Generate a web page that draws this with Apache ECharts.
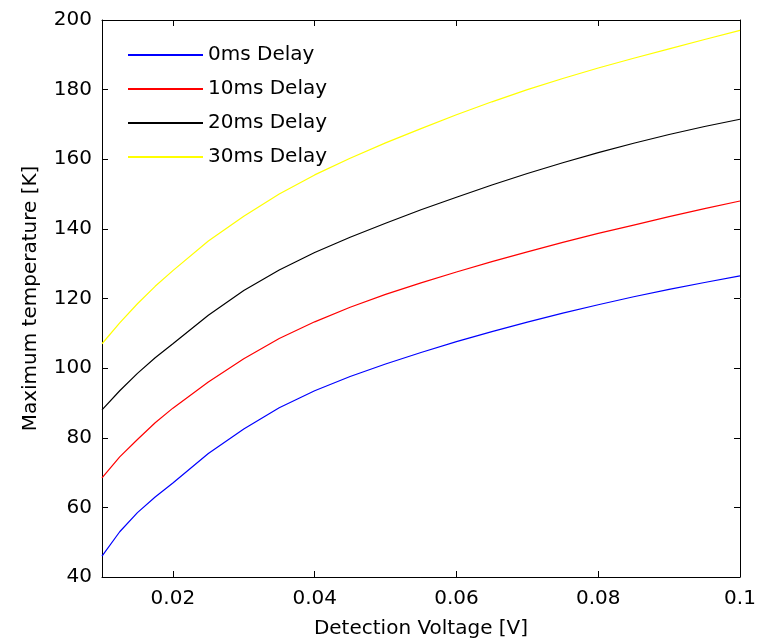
<!DOCTYPE html>
<html><head><meta charset="utf-8">
<script src="https://cdn.jsdelivr.net/npm/echarts@6/dist/echarts.min.js"></script>
<style>html,body{margin:0;padding:0;background:#fff}#c{width:763px;height:640px}</style>
</head><body><div id="c"></div>
<script>
const xVals = [0.01,0.0125,0.015,0.0175,0.02,0.025,0.03,0.035,0.04,0.045,0.05,0.055,0.06,0.065,0.07,0.075,0.08,0.085,0.09,0.095,0.1];
const seriesNames = ['0ms Delay','10ms Delay','20ms Delay','30ms Delay'];
const delay0 = [46,53,58.5,63,67,75.5,82.5,88.6,93.5,97.6,101.2,104.5,107.6,110.5,113.2,115.8,118.2,120.5,122.6,124.6,126.5];
const delay10 = [68.5,74.5,79.5,84.3,88.5,96,102.7,108.5,113.3,117.5,121.2,124.5,127.6,130.6,133.4,136.1,138.7,141.1,143.5,145.8,148];
const delay20 = [88,93.5,98.5,103,107,115.2,122.3,128.2,133.2,137.6,141.6,145.5,149.1,152.6,155.9,159,161.9,164.6,167.1,169.4,171.5];
const delay30 = [107,113,118.5,123.5,128,136.5,143.6,150,155.5,160.3,164.7,168.8,172.8,176.5,180,183.2,186.2,189,191.7,194.4,197];
const xTicks = [0.02,0.04,0.06,0.08,0.1];
const colors = ['#0000ff','#ff0000','#000000','#ffff00'];
const allData = [delay0,delay10,delay20,delay30];

const font = 'DejaVu Sans, sans-serif';
const chart = echarts.init(document.getElementById('c'));
const axisLine = {show:true,lineStyle:{color:'#000',width:1}};
chart.setOption({
  animation:false,
  grid:{left:102,right:23,top:20,bottom:63,outerBoundsMode:'none',containLabel:false},
  legend:{
    orient:'vertical',left:128,top:45,padding:0,itemWidth:75,itemHeight:2,itemGap:14,
    icon:'rect',textStyle:{fontFamily:font,fontSize:20,color:'#000'},
    data:seriesNames
  },
  xAxis:[{
    type:'value',min:0.01,max:0.1,position:'bottom',
    name:'Detection Voltage [V]',nameLocation:'middle',nameGap:42,
    nameTextStyle:{fontFamily:font,fontSize:20,color:'#000'},
    axisLine:axisLine,splitLine:{show:false},
    axisTick:{inside:true,length:6,customValues:xTicks,lineStyle:{color:'#000'}},
    axisLabel:{customValues:xTicks,fontFamily:font,fontSize:20,color:'#000',margin:12}
  },{
    type:'value',min:0.01,max:0.1,position:'top',
    axisLine:axisLine,splitLine:{show:false},
    axisTick:{inside:true,length:6,customValues:xTicks,lineStyle:{color:'#000'}},
    axisLabel:{show:false}
  }],
  yAxis:[{
    type:'value',min:40,max:200,interval:20,position:'left',
    name:'Maximum temperature [K]',nameLocation:'middle',nameGap:61,
    nameTextStyle:{fontFamily:font,fontSize:20,color:'#000'},
    axisLine:axisLine,splitLine:{show:false},
    axisTick:{inside:true,length:6,lineStyle:{color:'#000'}},
    axisLabel:{fontFamily:font,fontSize:20,color:'#000',margin:10}
  },{
    type:'value',min:40,max:200,interval:20,position:'right',
    axisLine:axisLine,splitLine:{show:false},
    axisTick:{inside:true,length:6,lineStyle:{color:'#000'}},
    axisLabel:{show:false}
  }],
  series: allData.map((d,i)=>({
    name:seriesNames[i],type:'line',showSymbol:false,symbol:'none',
    lineStyle:{color:colors[i],width:1.2},itemStyle:{color:colors[i]},
    data:xVals.map((x,j)=>[x,d[j]])
  }))
});
</script></body></html>
